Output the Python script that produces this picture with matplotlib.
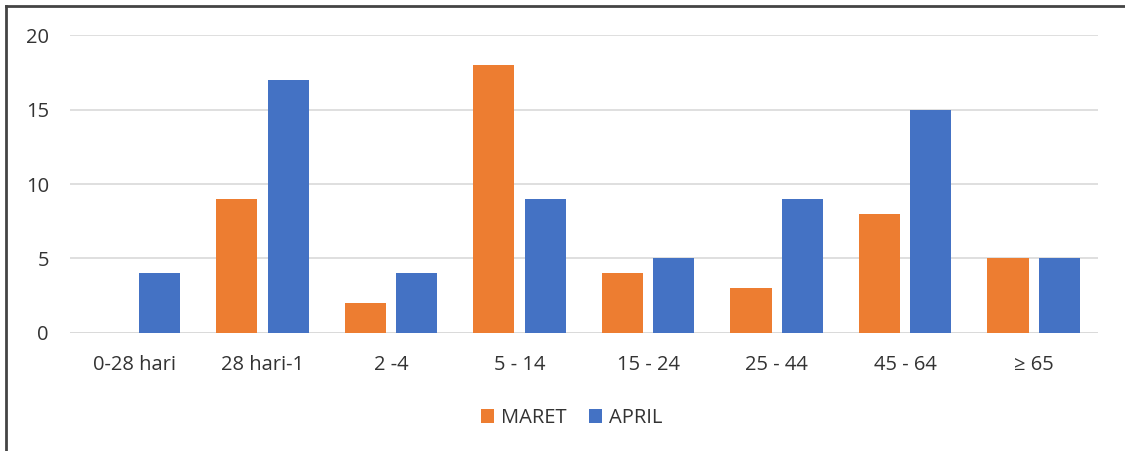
import numpy as np
import matplotlib.pyplot as plt
from matplotlib.lines import Line2D

categories = ['0-28 hari', '28 hari-1', '2 -4', '5 - 14', '15 - 24', '25 - 44', '45 - 64', '≥ 65']
maret = [0, 9, 2, 18, 4, 3, 8, 5]
april = [4, 17, 4, 9, 5, 9, 15, 5]
yticks = [0, 5, 10, 15, 20]

plt.rcParams['font.family'] = ['Open Sans', 'DejaVu Sans']

fig = plt.figure(figsize=(11.25, 4.51), dpi=100)
ax = fig.add_axes([0.062, 0.262, 0.914, 0.660])

x = np.arange(len(categories))
w = 0.32
ax.bar(x - 0.2, maret, w, color='#ED7D31', label='MARET', zorder=3)
ax.bar(x + 0.2, april, w, color='#4472C4', label='APRIL', zorder=3)

ax.set_xlim(-0.5, len(categories) - 0.5)
ax.set_ylim(0, 20)
ax.set_yticks(yticks)
ax.set_xticks(x)
ax.set_xticklabels(categories)
ax.yaxis.grid(True, color='#D9D9D9', linewidth=1.2, zorder=0)
for s in ax.spines.values():
    s.set_visible(False)
ax.axhline(0, color='#D9D9D9', linewidth=1.2, zorder=2)
ax.tick_params(length=0, labelsize=14.5, colors='#333333')
ax.tick_params(axis='x', pad=16)
ax.tick_params(axis='y', pad=15)

fig.legend(loc='center', bbox_to_anchor=(0.508, 0.073), ncol=2, frameon=False,
           fontsize=14.5, handlelength=0.65, handleheight=0.65, handletextpad=0.35,
           columnspacing=1.1, labelcolor='#333333')

# frame border (top and left)
fig.add_artist(Line2D([6 / 1125, 1], [1 - 6 / 451, 1 - 6 / 451], color='#444444', linewidth=2,
                      transform=fig.transFigure))
fig.add_artist(Line2D([6 / 1125, 6 / 1125], [0, 1 - 6 / 451], color='#444444', linewidth=2,
                      transform=fig.transFigure))

fig.savefig('out.png', dpi=100)
